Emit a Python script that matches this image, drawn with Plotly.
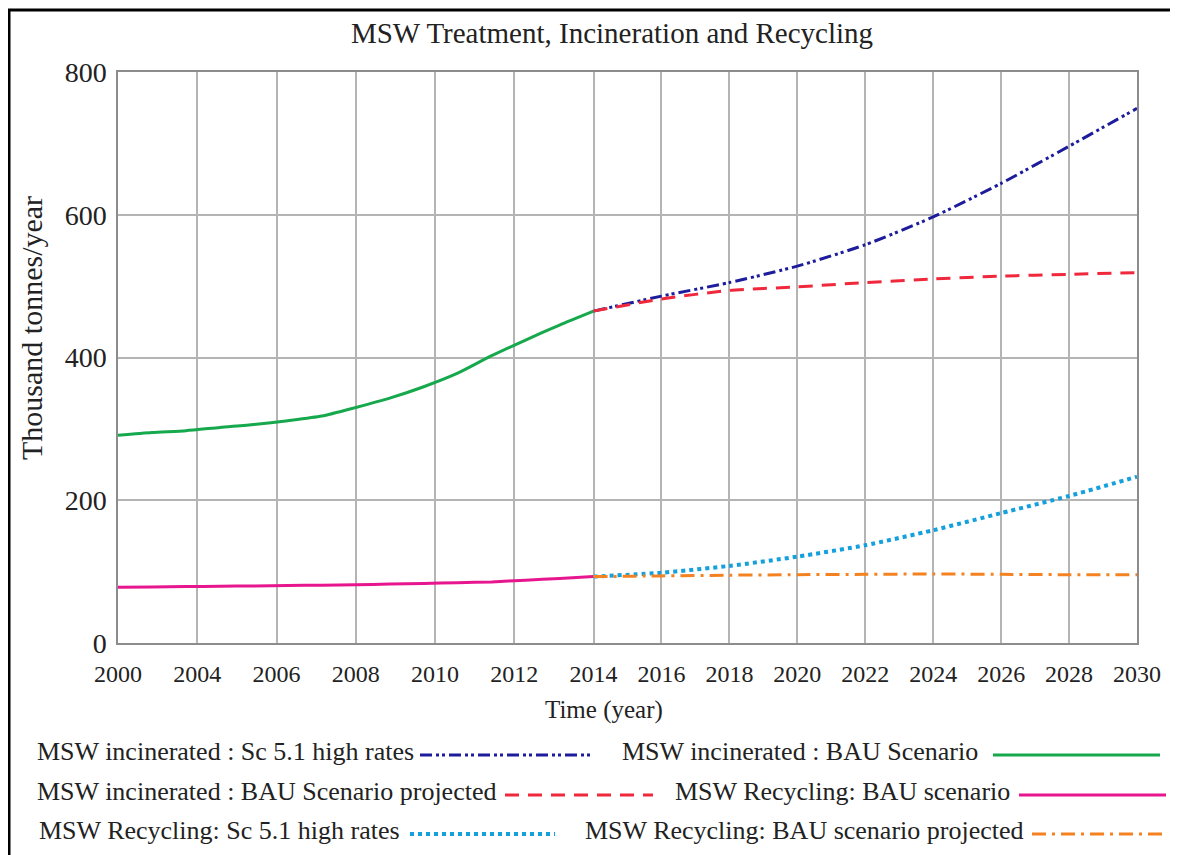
import numpy as np
import plotly.graph_objects as go

# Historical values (thousand tonnes/year)
years_hist = list(range(2000, 2015))
incin_bau = [291, 295, 297.5, 302, 306, 311.5, 318, 330, 343, 359, 378, 402.5, 424.5, 445.5, 465]
recyc_bau = [78, 78.5, 79, 79.5, 80, 80.5, 81, 81.5, 82.5, 83.5, 84.5, 85.5, 88, 90.5, 93]

# Projections
years_proj = list(range(2014, 2031, 2))
incin_sc51 = [465, 486, 505, 528, 558, 597, 644, 696, 749]
incin_proj = [465, 482, 494, 499, 505, 510, 514, 516.5, 519]
recyc_sc51 = [93, 98.5, 108, 121, 137, 158, 182, 206, 233]
recyc_proj = [93, 94, 95, 95.7, 96.2, 96.7, 96.2, 95.7, 95.7]

tick_labels = ["2000", "2004", "2006", "2008", "2010", "2012", "2014", "2016",
               "2018", "2020", "2022", "2024", "2026", "2028", "2030"]
tick_pos = list(np.linspace(2000, 2014, 7)) + list(range(2016, 2031, 2))

FONT = "Liberation Serif"

# the page has an 8px body margin, so the figure is drawn 8px in
OFF = 8
W, H = 1178 - OFF, 855 - OFF
# plot area in page pixels
L, R, T, B = 118, 1137, 72, 643


def px(x):
    return (x - L) / (R - L)


def py(y):
    return (B - y) / (B - T)


series = [
    ("MSW incinerated : Sc 5.1 high rates", years_proj, incin_sc51, "#1c1c9c", "12px,4px,3px,3px,3px,4px", 3),
    ("MSW incinerated : BAU Scenario", years_hist, incin_bau, "#16a84c", "solid", 3),
    ("MSW incinerated : BAU Scenario projected", years_proj, incin_proj, "#f0283c", "14px,9px", 3),
    ("MSW Recycling: BAU scenario", years_hist, recyc_bau, "#e8168e", "solid", 3),
    ("MSW Recycling: Sc 5.1 high rates", years_proj, recyc_sc51, "#14a0dc", "4px,4px", 4),
    ("MSW Recycling: BAU scenario projected", years_proj, recyc_proj, "#f58220", "14px,6px,3px,6px", 3),
]

fig = go.Figure()
for name, xs, ys, color, dash, width in series:
    fig.add_trace(go.Scatter(
        x=xs, y=ys, mode="lines", name=name,
        line=dict(color=color, dash=dash, width=width, shape="spline", smoothing=0.6),
        showlegend=False,
    ))

# hand-made legend: text followed by a line sample
legend_rows = [
    (35, 751, 420, 590, 0),
    (620, 751, 993, 1160, 1),
    (35, 791, 505, 653, 2),
    (673, 791, 1019, 1166, 3),
    (37, 830, 410, 555, 4),
    (583, 830, 1032, 1166, 5),
]
shapes = []
annotations = []
for tx, ty, x0, x1, i in legend_rows:
    name, _, _, color, dash, width = series[i]
    annotations.append(dict(
        x=px(tx), y=py(ty), xref="paper", yref="paper", text=name,
        showarrow=False, xanchor="left", yanchor="middle",
        font=dict(family=FONT, size=26, color="#222"),
    ))
    shapes.append(dict(
        type="line", xref="paper", yref="paper",
        x0=px(x0), x1=px(x1), y0=py(ty + 4), y1=py(ty + 4),
        line=dict(color=color, dash=dash, width=width),
    ))

# outer frame (top and left)
shapes.append(dict(type="line", xref="paper", yref="paper",
                   x0=px(8), x1=px(1180), y0=py(10), y1=py(10),
                   line=dict(color="black", width=3)))
shapes.append(dict(type="line", xref="paper", yref="paper",
                   x0=px(9), x1=px(9), y0=py(10), y1=py(870),
                   line=dict(color="black", width=3)))

annotations.append(dict(
    x=px(604), y=py(710), xref="paper", yref="paper", text="Time (year)",
    showarrow=False, xanchor="center", yanchor="middle",
    font=dict(family=FONT, size=25, color="#222"),
))
annotations.append(dict(
    x=px(31), y=py(328), xref="paper", yref="paper", text="Thousand tonnes/year",
    showarrow=False, xanchor="center", yanchor="middle", textangle=-90,
    font=dict(family=FONT, size=30, color="#222"),
))

fig.update_layout(
    width=W, height=H,
    margin=dict(l=L - OFF, r=W - (R - OFF), t=T - OFF, b=H - (B - OFF)),
    paper_bgcolor="white", plot_bgcolor="white",
    title=dict(text="MSW Treatment, Incineration and Recycling",
               x=(612 - OFF) / W, xanchor="center", y=1 - (33 - OFF) / H, yanchor="middle",
               font=dict(family=FONT, size=29, color="#222")),
    xaxis=dict(range=[2000, 2030], tickvals=tick_pos, ticktext=tick_labels,
               showgrid=True, gridcolor="#b4b4b4", gridwidth=1.5,
               showline=True, mirror=True, linecolor="#8c8c8c", linewidth=1.5,
               zeroline=False, ticks="", ticklabelstandoff=8,
               tickfont=dict(family=FONT, size=24, color="#222")),
    yaxis=dict(range=[0, 800], dtick=200,
               showgrid=True, gridcolor="#b4b4b4", gridwidth=1.5,
               showline=True, mirror=True, linecolor="#8c8c8c", linewidth=1.5,
               zeroline=False, ticks="", ticklabelstandoff=4,
               tickfont=dict(family=FONT, size=28, color="#222")),
    shapes=shapes,
    annotations=annotations,
)

fig.write_html("out.html")
